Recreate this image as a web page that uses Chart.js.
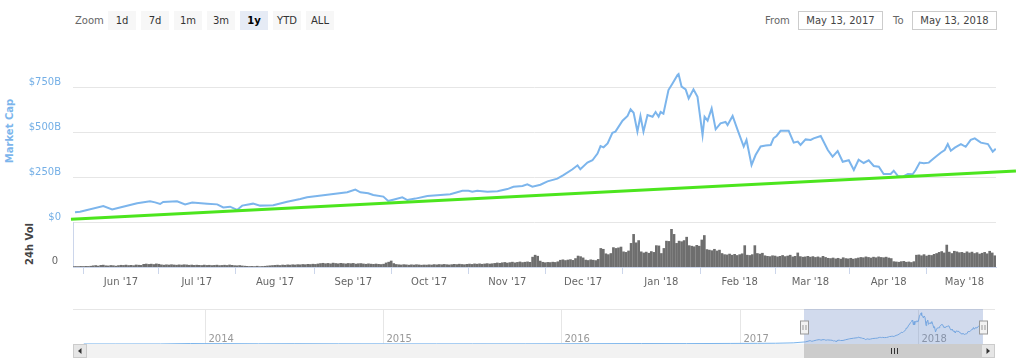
<!DOCTYPE html>
<html>
<head>
<meta charset="utf-8">
<title>Total Market Capitalization</title>
<script src="https://cdn.jsdelivr.net/npm/chart.js"></script>
<style>
    body {
        margin: 0;
        width: 1024px;
        height: 362px;
        overflow: hidden;
        position: relative;
        background: #fff;
        font-family: "DejaVu Sans", sans-serif;
    }
    .lbl { position: absolute; top: 11px; height: 19px; line-height: 19px; font-size: 10px; color: #666; }
    .btn {
        position: absolute; top: 11px; width: 28px; height: 19px; line-height: 19px;
        text-align: center; background: #f7f7f7; color: #333; font-size: 10px;
    }
    .btn.on { background: #e6ebf5; font-weight: bold; color: #000; }
    .date {
        position: absolute; top: 11px; width: 83px; height: 17px; line-height: 17px;
        border: 1px solid #ccc; text-align: center; font-size: 10px; color: #444;
    }
    .axtitle {
        position: absolute; font-size: 10px; font-weight: bold; white-space: nowrap;
        transform: translate(-50%, -50%) rotate(-90deg);
    }
    canvas { position: absolute; left: 0; }
</style>
</head>
<body>
    <div class="lbl" style="left:75px">Zoom</div>
    <div class="btn" style="left:108px">1d</div>
    <div class="btn" style="left:141px">7d</div>
    <div class="btn" style="left:174px">1m</div>
    <div class="btn" style="left:207px">3m</div>
    <div class="btn on" style="left:240px">1y</div>
    <div class="btn" style="left:273px">YTD</div>
    <div class="btn" style="left:306px">ALL</div>

    <div class="lbl" style="left:765px">From</div>
    <div class="date" style="left:798px">May 13, 2017</div>
    <div class="lbl" style="left:893px">To</div>
    <div class="date" style="left:912px">May 13, 2018</div>

    <div class="axtitle" style="left:9px; top:131px; color:#7cb5ec">Market Cap</div>
    <div class="axtitle" style="left:29px; top:244px; color:#444">24h Vol</div>

    <canvas id="mainChart" width="1024" height="260" style="top:40px"></canvas>
    <canvas id="navChart" width="1024" height="62" style="top:300px"></canvas>

<script>
    // days counted from May 13, 2017
    const capDays = [0.8, 2.8, 12, 15.5, 18.6, 25.4, 30.5, 32.5, 34.5, 35.7, 41.2, 44.4, 47.2, 53.1, 57.1, 59.5,
        62.2, 65, 67, 71.3, 74.1, 79.3, 84.8, 90, 92.7, 100.7, 108.6, 111.8, 113.8, 116.9, 118.9, 122.9, 124.8,
        126.8, 130.4, 132.4, 135.6, 140.3, 145.5, 149.4, 154.2, 156.6, 158.1, 160.1, 164.1, 168.1, 172, 174.4,
        178, 179.9, 181.9, 185.1, 187.9, 191.8, 194.2, 197.8, 199.8, 200.9, 203.7, 205.7, 207.7, 208.9, 210.1,
        211.7, 213.6, 214.8, 217.6, 219.6, 220.8, 222, 223.5, 224.7, 225.9, 227.5, 229.5, 230.7, 231.9, 232.7,
        233.8, 235.8, 237.4, 239.4, 239.8, 241, 242.6, 243.8, 245.7, 247.3, 249.3, 250.1, 251.3, 252.9, 254.5,
        256.4, 258.4, 259.2, 261.2, 263.2, 265.6, 266.7, 268.7, 270.3, 272.3, 274.3, 276.3, 277.4, 278.6, 280.2,
        283.4, 285.4, 287, 288.1, 290.1, 292.1, 293.3, 296.1, 298.9, 300.8, 302.8, 304.8, 307.2, 309.2, 311.1,
        313.1, 315.1, 317.1, 319.1, 321, 323.8, 325, 326.6, 328.6, 330.6, 332.5, 333.7, 335.3, 336.9, 338.9,
        340.9, 343.6, 345.2, 346.4, 347.6, 349.2, 351.6, 353.5, 355.5, 357.1, 359.5, 362.3, 364.2, 365.4];
    const capValues = [54, 57, 89, 70, 81, 104, 115, 109, 100, 111, 115, 98, 108, 102, 98, 81,
        85, 67, 91, 102, 91, 93, 113, 128, 137, 152, 165, 180, 165, 160, 150, 141, 117,
        124, 137, 122, 130, 144, 150, 154, 174, 174, 168, 174, 168, 171, 183, 196,
        200, 209, 196, 207, 226, 241, 261, 293, 315, 293, 330, 343, 380, 422, 415,
        437, 496, 502, 563, 589, 626, 607, 502, 589, 502, 594, 585, 611, 585, 611,
        602, 733, 770, 817, 822, 752, 737, 687, 737, 696, 483, 585, 563, 631, 515,
        548, 556, 539, 589, 511, 419, 456, 317, 372, 420, 425, 428, 465, 478, 507,
        507, 441, 447, 428, 459, 456, 465, 478, 400, 363, 394, 335, 343, 289, 346,
        328, 343, 311, 307, 267, 267, 285, 256, 252, 267, 265, 289, 330, 326, 330,
        354, 385, 400, 433, 396, 413, 433, 418, 456, 465, 441, 433, 391, 407];

    // green trend line, runs a little past the plot on the right
    const trendDays = [-0.8, 373.4];
    const trendValues = [15, 283];

    // 24h volume in $B, one per day
    const volValues = [
        0.7, 0.9, 0.8, 1.1, 0.9, 1.2, 1.0, 1.4, 2.1, 2.6,
        1.7, 2.9, 3.3, 2.2, 1.9, 2.7, 2.3, 1.6, 2.5, 3.1,
        2.8, 3.4, 2.6, 3.0, 2.4, 3.6, 3.2, 2.9, 4.8, 5.3,
        4.6, 5.1, 4.4, 5.5, 4.9, 3.8, 3.3, 3.9, 3.5, 4.1,
        3.6, 3.2, 3.8, 3.4, 4.0, 3.7, 3.1, 3.5, 2.9, 3.3,
        3.0, 2.7, 3.4, 2.8, 3.1, 2.6, 2.9, 3.3, 2.5, 2.8,
        3.2, 2.7, 3.6, 3.0, 2.4, 2.2, 2.6, 1.9, 1.5, 1.2,
        0.9, 1.1, 0.8, 1.4, 0.7, 1.0, 1.3, 1.8, 2.2, 2.6,
        2.9, 3.3, 2.7, 3.5, 3.1, 3.8, 3.4, 4.0, 3.6, 4.2,
        3.9, 4.5, 4.1, 4.8, 4.4, 5.0, 4.6, 5.4, 6.1, 6.6,
        5.8, 6.4, 5.6, 6.9, 6.2, 5.7, 6.5, 6.0, 5.5, 6.3,
        5.9, 6.4, 5.2, 5.8, 6.1, 5.4, 4.9, 5.6, 5.1, 4.7,
        5.3, 4.8, 4.4, 5.0, 7.2, 8.6, 10.7, 6.1, 4.5, 4.0,
        3.6, 4.2, 3.8, 3.3, 3.9, 3.5, 4.1, 3.7, 3.2, 3.6,
        3.4, 3.9, 3.5, 4.3, 3.8, 4.4, 4.0, 4.6, 4.1, 3.7,
        4.2, 4.8, 4.3, 5.0, 4.5, 4.1, 4.7, 5.2, 4.6, 5.5,
        5.0, 5.6, 4.9, 5.4, 6.0, 5.3, 5.8, 6.4, 7.2, 6.6,
        7.5, 8.1, 7.0, 7.8, 8.6, 7.4, 8.2, 9.0, 7.9, 8.5,
        9.1, 8.3, 17.5, 21.0, 19.2, 10.5, 8.4, 7.6, 8.2, 7.9,
        8.6, 8.1, 9.3, 12.0, 12.8, 11.5, 12.4, 13.1, 11.8, 15.0,
        19.5, 18.4, 16.2, 12.3, 11.6, 12.8, 12.1, 11.4, 13.5, 33.0,
        31.5, 23.5, 22.0, 24.0, 34.5, 33.0, 34.0, 35.5, 27.0, 26.0,
        28.5, 42.0, 58.0, 43.0, 47.0, 27.0, 25.0, 26.5, 24.5, 27.5,
        26.0, 38.0, 37.5, 24.0, 33.0, 46.0, 45.5, 67.0, 58.0, 42.0,
        46.0, 45.0, 47.0, 53.0, 38.0, 37.0, 36.0, 38.5, 37.0, 48.0,
        56.0, 31.0, 30.0, 29.0, 31.5, 28.5, 30.0, 24.0, 22.0, 21.5,
        23.0, 21.0, 22.5, 20.5, 22.0, 23.5, 38.0, 21.0, 20.5, 22.0,
        38.0, 24.0, 23.0, 24.5, 20.0, 19.0, 18.5, 20.0, 19.5, 18.0,
        19.0, 20.5, 18.5, 19.5, 21.0, 18.0, 19.0, 25.0, 18.5, 17.5,
        18.0, 19.0, 17.5, 18.5, 17.0, 18.0, 16.5, 19.0, 17.0, 15.5,
        15.0, 16.0, 14.5, 15.5, 14.0, 16.5, 15.0, 14.5, 15.5, 14.0,
        15.0, 16.0, 17.0, 16.5, 18.0, 17.0, 16.0, 17.5, 16.5, 18.0,
        17.0, 16.5, 17.5, 16.0, 15.0, 9.5, 9.0, 8.5, 9.5, 10.0,
        8.5, 9.0, 8.0, 9.5, 21.0, 21.5, 20.0, 22.0, 19.5, 21.0,
        20.5, 22.5, 24.0, 26.0, 27.5, 25.0, 39.0, 26.5, 24.0, 28.0,
        27.0, 25.5, 26.0, 24.5, 27.0, 25.0, 26.5, 24.0, 25.5, 23.0,
        24.5, 26.0, 23.5, 28.0, 25.0, 20.0];

    const tickDays = [19, 49, 80, 111, 141, 172, 202, 233, 264, 292, 323, 353];
    const tickLabels = ["Jun '17", "Jul '17", "Aug '17", "Sep '17", "Oct '17", "Nov '17",
        "Dec '17", "Jan '18", "Feb '18", "Mar '18", "Apr '18", "May '18"];
    const capTicks = [0, 250, 500, 750];
    const capTickLabels = ['$0', '$250B', '$500B', '$750B'];
    const volTicks = [0];
    const volTickLabels = ['0'];

    // navigator: older history (fractional years, $B), then the 1y series above
    const navHistYears = [2013.32, 2013.5, 2013.75, 2013.92, 2014.0, 2014.1, 2014.3, 2014.5, 2014.75, 2015.0,
        2015.3, 2015.5, 2015.8, 2016.0, 2016.45, 2016.7, 2016.95, 2017.1, 2017.2, 2017.3];
    const navHistValues = [1.5, 1.2, 1.8, 13, 10, 11, 6, 8, 5, 4, 3.4, 4, 5, 7, 12, 11, 15, 18, 20, 30];
    const navTickYears = [2014, 2015, 2016, 2017, 2018];
    const navTickLabels = ['2014', '2015', '2016', '2017', '2018'];
    const startYear = 2017.362;
    const selStart = 2017.362, selEnd = 2018.362;

    Chart.defaults.font.family = '"DejaVu Sans", sans-serif';
    Chart.defaults.font.size = 10;

    const capData = capDays.map((d, i) => ({ x: d, y: capValues[i] }));
    const trendData = trendDays.map((d, i) => ({ x: d, y: trendValues[i] }));
    const volData = volValues.map((v, i) => ({ x: i, y: v }));

    new Chart(document.getElementById('mainChart').getContext('2d'), {
        type: 'line',
        data: {
            datasets: [{
                label: 'Trend',
                data: trendData,
                yAxisID: 'y',
                borderColor: '#4ce51e',
                borderWidth: 3,
                pointRadius: 0,
                clip: false,
                order: 0
            }, {
                label: 'Market Cap',
                data: capData,
                yAxisID: 'y',
                borderColor: '#7cb5ec',
                borderWidth: 2,
                pointRadius: 0,
                tension: 0,
                order: 1
            }, {
                type: 'bar',
                label: '24h Vol',
                data: volData,
                yAxisID: 'vol',
                backgroundColor: '#6e6e6e',
                barThickness: 2,
                order: 2
            }]
        },
        options: {
            responsive: false,
            animation: false,
            layout: { padding: { top: 24, right: 28, left: 0, bottom: 0 } },
            plugins: {
                legend: { display: false },
                tooltip: { enabled: false }
            },
            scales: {
                x: {
                    type: 'linear',
                    min: 0,
                    max: 365.5,
                    offset: false,
                    afterBuildTicks: s => { s.ticks = tickDays.map(v => ({ value: v })); },
                    afterFit: s => { s.height = 33; },
                    grid: { drawOnChartArea: false, color: '#ccd6eb', tickLength: 7 },
                    border: { color: '#ccd6eb' },
                    ticks: {
                        autoSkip: false,
                        maxRotation: 0,
                        padding: 2,
                        color: '#666',
                        callback: (v, i) => tickLabels[i]
                    }
                },
                // the stacked pane listed last ends up on top
                vol: {
                    position: 'left',
                    stack: 'panes',
                    stackWeight: 45,
                    min: 0,
                    max: 80,
                    afterBuildTicks: s => { s.ticks = volTicks.map(v => ({ value: v })); },
                    afterFit: s => { s.width = 73; },
                    grid: { display: false, drawTicks: false },
                    border: { display: true, color: '#ccd6eb' },
                    ticks: {
                        padding: 15,
                        labelOffset: -6,
                        color: '#666',
                        callback: (v, i) => volTickLabels[i]
                    }
                },
                y: {
                    position: 'left',
                    stack: 'panes',
                    stackWeight: 158,
                    min: 0,
                    max: 878,
                    afterBuildTicks: s => { s.ticks = capTicks.map(v => ({ value: v })); },
                    afterFit: s => { s.width = 73; },
                    grid: { color: '#e6e6e6', drawTicks: false },
                    border: { display: false },
                    ticks: {
                        padding: 12,
                        labelOffset: -5,
                        color: '#74afe6',
                        callback: (v, i) => capTickLabels[i]
                    }
                }
            }
        }
    });

    // navigator decorations: year lines, selection mask, handles, scrollbar
    const navDecor = {
        id: 'navDecor',
        beforeDatasetsDraw(chart) {
            const { ctx, chartArea: a, scales: { x } } = chart;
            ctx.save();
            ctx.strokeStyle = '#e6e6e6';
            ctx.lineWidth = 1;
            ctx.beginPath();
            ctx.moveTo(a.left, a.top + 0.5);
            ctx.lineTo(a.right, a.top + 0.5);
            ctx.stroke();
            ctx.font = '10px "DejaVu Sans"';
            ctx.fillStyle = '#999';
            navTickYears.forEach((yr, i) => {
                const px = Math.round(x.getPixelForValue(yr)) + 0.5;
                ctx.beginPath();
                ctx.moveTo(px, a.top);
                ctx.lineTo(px, a.bottom);
                ctx.stroke();
                ctx.fillText(navTickLabels[i], px + 3, a.bottom - 2);
            });
            ctx.restore();
        },
        afterDatasetsDraw(chart) {
            const { ctx, chartArea: a, scales: { x } } = chart;
            const x0 = Math.round(x.getPixelForValue(selStart));
            const x1 = Math.round(x.getPixelForValue(selEnd));
            ctx.save();
            ctx.fillStyle = 'rgba(102,133,194,0.3)';
            ctx.fillRect(x0, a.top, x1 - x0, a.bottom - a.top);

            // scrollbar
            const sy = a.bottom, sh = 14;
            ctx.fillStyle = '#f2f2f2';
            ctx.fillRect(a.left, sy, a.right - a.left, sh);
            ctx.fillStyle = '#cccccc';
            ctx.fillRect(x0, sy, x1 - x0, sh);
            ctx.strokeStyle = '#333';
            ctx.lineWidth = 1;
            const gx = Math.round((x0 + x1) / 2);
            ctx.beginPath();
            [-3, 0, 3].forEach(d => {
                ctx.moveTo(gx + d + 0.5, sy + 4);
                ctx.lineTo(gx + d + 0.5, sy + 10);
            });
            ctx.stroke();
            [[a.left, -1], [a.right - 14, 1]].forEach(([bx, dir]) => {
                ctx.fillStyle = '#e6e6e6';
                ctx.fillRect(bx, sy, 14, sh);
                ctx.strokeStyle = '#cccccc';
                ctx.strokeRect(bx + 0.5, sy + 0.5, 13, sh - 1);
                ctx.fillStyle = '#333';
                ctx.beginPath();
                const cx = bx + 7, cy = sy + 7;
                ctx.moveTo(cx + dir * 2, cy);
                ctx.lineTo(cx - dir * 1.5, cy - 3);
                ctx.lineTo(cx - dir * 1.5, cy + 3);
                ctx.closePath();
                ctx.fill();
            });

            // handles
            [x0, x1].forEach(h => {
                const hx = h + 0.5;
                ctx.fillStyle = '#f2f2f2';
                ctx.strokeStyle = '#999';
                ctx.fillRect(hx - 4, a.top + 12, 8, 13);
                ctx.strokeRect(hx - 4, a.top + 12, 8, 13);
                ctx.beginPath();
                ctx.moveTo(hx - 1.5, a.top + 16);
                ctx.lineTo(hx - 1.5, a.top + 21);
                ctx.moveTo(hx + 1.5, a.top + 16);
                ctx.lineTo(hx + 1.5, a.top + 21);
                ctx.stroke();
            });
            ctx.restore();
        }
    };

    const navData = navHistYears.map((yr, i) => ({ x: yr, y: navHistValues[i] }))
        .concat(capDays.map((d, i) => ({ x: startYear + d / 365, y: capValues[i] })));

    new Chart(document.getElementById('navChart').getContext('2d'), {
        type: 'line',
        data: {
            datasets: [{
                data: navData,
                borderColor: '#7cb5ec',
                borderWidth: 1,
                backgroundColor: 'rgba(124,181,236,0.06)',
                fill: 'origin',
                pointRadius: 0
            }]
        },
        options: {
            responsive: false,
            animation: false,
            layout: { padding: { left: 73, right: 29, top: 9, bottom: 18 } },
            plugins: {
                legend: { display: false },
                tooltip: { enabled: false }
            },
            scales: {
                x: { type: 'linear', display: false, min: 2013.2595, max: 2018.432 },
                y: { display: false, min: 0, max: 920 }
            }
        },
        plugins: [navDecor]
    });
</script>
</body>
</html>
